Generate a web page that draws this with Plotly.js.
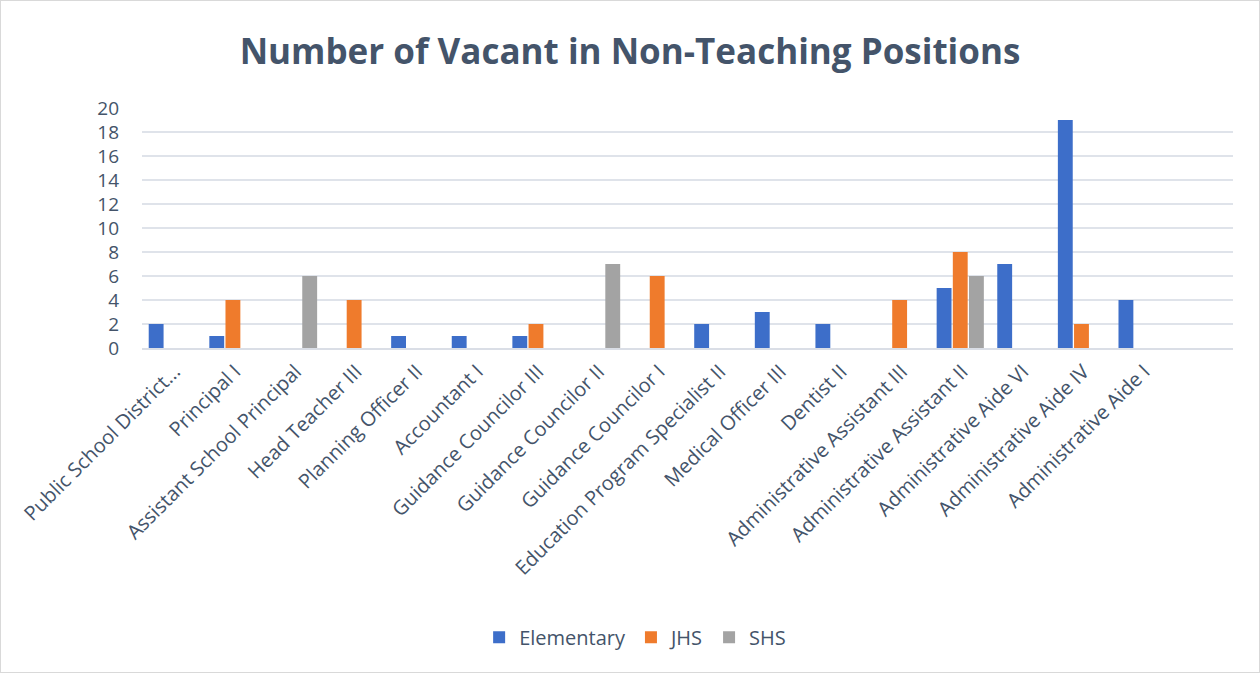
<!DOCTYPE html>
<html>
<head>
<meta charset="utf-8">
<script src="https://cdn.plot.ly/plotly-3.0.1.min.js"></script>
<style>
html,body{margin:0;padding:0;background:#fff;}
#chart{width:1258px;height:671px;border:1px solid #d9d9d9;}
</style>
</head>
<body>
<div id="chart"></div>
<script>
const categories = [
  "Public School District...", "Principal I", "Assistant School Principal", "Head Teacher III",
  "Planning Officer II", "Accountant I", "Guidance Councilor III", "Guidance Councilor II",
  "Guidance Councilor I", "Education Program Specialist II", "Medical Officer III", "Dentist II",
  "Administrative Assistant III", "Administrative Assistant II", "Administrative Aide VI",
  "Administrative Aide IV", "Administrative Aide I"
];
const elementary = [2, 1, null, null, 1, 1, 1, null, null, 2, 3, 2, null, 5, 7, 19, 4];
const jhs        = [null, 4, null, 4, null, null, 2, null, 6, null, null, null, 4, 8, null, 2, null];
const shs        = [null, null, 6, null, null, null, null, 7, null, null, null, null, null, 6, null, null, null];
const yTicks = [0, 2, 4, 6, 8, 10, 12, 14, 16, 18, 20];

const font = "'Open Sans', 'DejaVu Sans', sans-serif";
const textColor = "#44546a";

const traces = [
  {name: "Elementary", y: elementary, color: "#3d6ec9"},
  {name: "JHS", y: jhs, color: "#ef7b2c"},
  {name: "SHS", y: shs, color: "#a3a3a3"}
].map(s => ({
  type: "bar",
  name: s.name,
  x: categories,
  y: s.y,
  marker: {color: s.color},
  hoverinfo: "x+y+name"
}));

const layout = {
  width: 1258, height: 671,
  paper_bgcolor: "#fff", plot_bgcolor: "#fff",
  margin: {l: 141, r: 26, t: 107, b: 324, autoexpand: false},
  title: {
    text: "<b>Number of Vacant in Non-Teaching Positions</b>",
    font: {family: font, size: 35, color: textColor},
    x: 0.5, xanchor: "center", y: 0.925, yanchor: "middle"
  },
  barmode: "group",
  bargap: 0.2,
  bargroupgap: 0.08,
  xaxis: {
    type: "category",
    range: [-0.5, 17.5],
    dtick: 1,
    tickangle: -45,
    tickfont: {family: font, size: 20, color: textColor},
    showgrid: false,
    showline: true, linecolor: "#dadee6", linewidth: 2,
    ticks: "", ticklen: 0,
    ticklabelshift: 2,
    ticklabelstandoff: 2,
    automargin: false
  },
  yaxis: {
    range: [0, 20],
    tickvals: yTicks,
    ticktext: yTicks.map(String),
    tickfont: {family: font, size: 19, color: textColor},
    showgrid: true, gridcolor: "#dfe3ea", gridwidth: 2,
    zeroline: false,
    showline: false,
    ticks: "", ticklabelstandoff: 22,
    automargin: false
  },
  legend: {
    orientation: "h",
    x: 0.452, xanchor: "center",
    y: -1.205, yanchor: "middle",
    font: {family: font, size: 20, color: textColor},
    itemwidth: 30,
    traceorder: "normal"
  },
  showlegend: true
};

Plotly.newPlot("chart", traces, layout, {displayModeBar: false, staticPlot: false});
</script>
</body>
</html>
